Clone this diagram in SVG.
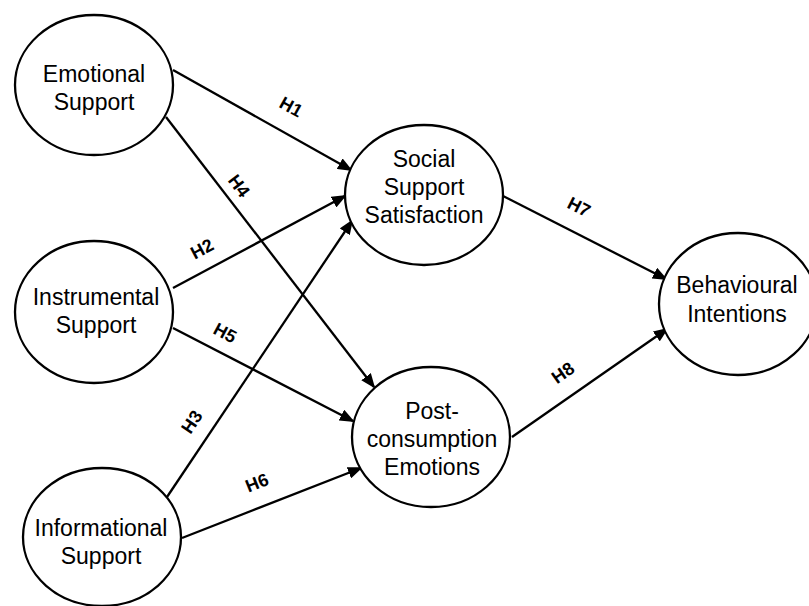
<svg xmlns="http://www.w3.org/2000/svg" width="809" height="606" viewBox="0 0 809 606">
  <style>
    .node ellipse { fill: #ffffff; stroke: #000000; stroke-width: 2.3; }
    .node text { font-family: "Liberation Sans", Arial, sans-serif; font-size: 23px; fill: #000000; text-anchor: middle; }
    .edges line { stroke: #000000; stroke-width: 2.3; marker-end: url(#arrow); }
    .edges text { font-family: "Liberation Sans", Arial, sans-serif; font-size: 18px; font-weight: bold; fill: #000000; text-anchor: middle; dominant-baseline: central; }
  </style>
  <defs>
    <marker id="arrow" markerUnits="userSpaceOnUse" markerWidth="15" markerHeight="12" refX="13" refY="6" orient="auto">
      <path d="M0,0 L15,6 L0,12 z" fill="#000000"/>
    </marker>
  </defs>
  <rect width="809" height="606" fill="#ffffff"/>

  <!-- hypothesised paths -->
  <g id="connectors" class="edges">
    <line x1="173" y1="70" x2="351" y2="170"/>
    <line x1="166" y1="117" x2="374" y2="387"/>
    <line x1="173" y1="288" x2="345" y2="196"/>
    <line x1="167" y1="497" x2="352" y2="221"/>
    <line x1="173" y1="328" x2="353" y2="421"/>
    <line x1="182" y1="538" x2="361" y2="468"/>
    <line x1="503" y1="196" x2="666" y2="279"/>
    <line x1="512" y1="437" x2="667" y2="329"/>

    <text transform="translate(291,107) rotate(29)">H1</text>
    <text transform="translate(239,186) rotate(53)">H4</text>
    <text transform="translate(202,249) rotate(-28)">H2</text>
    <text transform="translate(192,422) rotate(-56)">H3</text>
    <text transform="translate(225,333) rotate(28)">H5</text>
    <text transform="translate(257,483) rotate(-22)">H6</text>
    <text transform="translate(579,207) rotate(27)">H7</text>
    <text transform="translate(563,373) rotate(-35)">H8</text>
  </g>

  <g id="emotional-support" class="node">
    <ellipse cx="94" cy="85" rx="79" ry="70"/>
    <text x="94" y="82">Emotional</text>
    <text x="94" y="110">Support</text>
  </g>

  <g id="instrumental-support" class="node">
    <ellipse cx="94" cy="312" rx="79" ry="71"/>
    <text x="96" y="305">Instrumental</text>
    <text x="96" y="333">Support</text>
  </g>

  <g id="informational-support" class="node">
    <ellipse cx="102" cy="537" rx="79" ry="69"/>
    <text x="101" y="536">Informational</text>
    <text x="101" y="564">Support</text>
  </g>

  <g id="social-support-satisfaction" class="node">
    <ellipse cx="424" cy="195" rx="79" ry="70"/>
    <text x="424" y="167">Social</text>
    <text x="424" y="195">Support</text>
    <text x="424" y="223">Satisfaction</text>
  </g>

  <g id="post-consumption-emotions" class="node">
    <ellipse cx="431" cy="437" rx="79" ry="70"/>
    <text x="432" y="419">Post-</text>
    <text x="432" y="447">consumption</text>
    <text x="432" y="475">Emotions</text>
  </g>

  <g id="behavioural-intentions" class="node">
    <ellipse cx="738" cy="304" rx="79" ry="71"/>
    <text x="737" y="293">Behavioural</text>
    <text x="737" y="322">Intentions</text>
  </g>
</svg>
